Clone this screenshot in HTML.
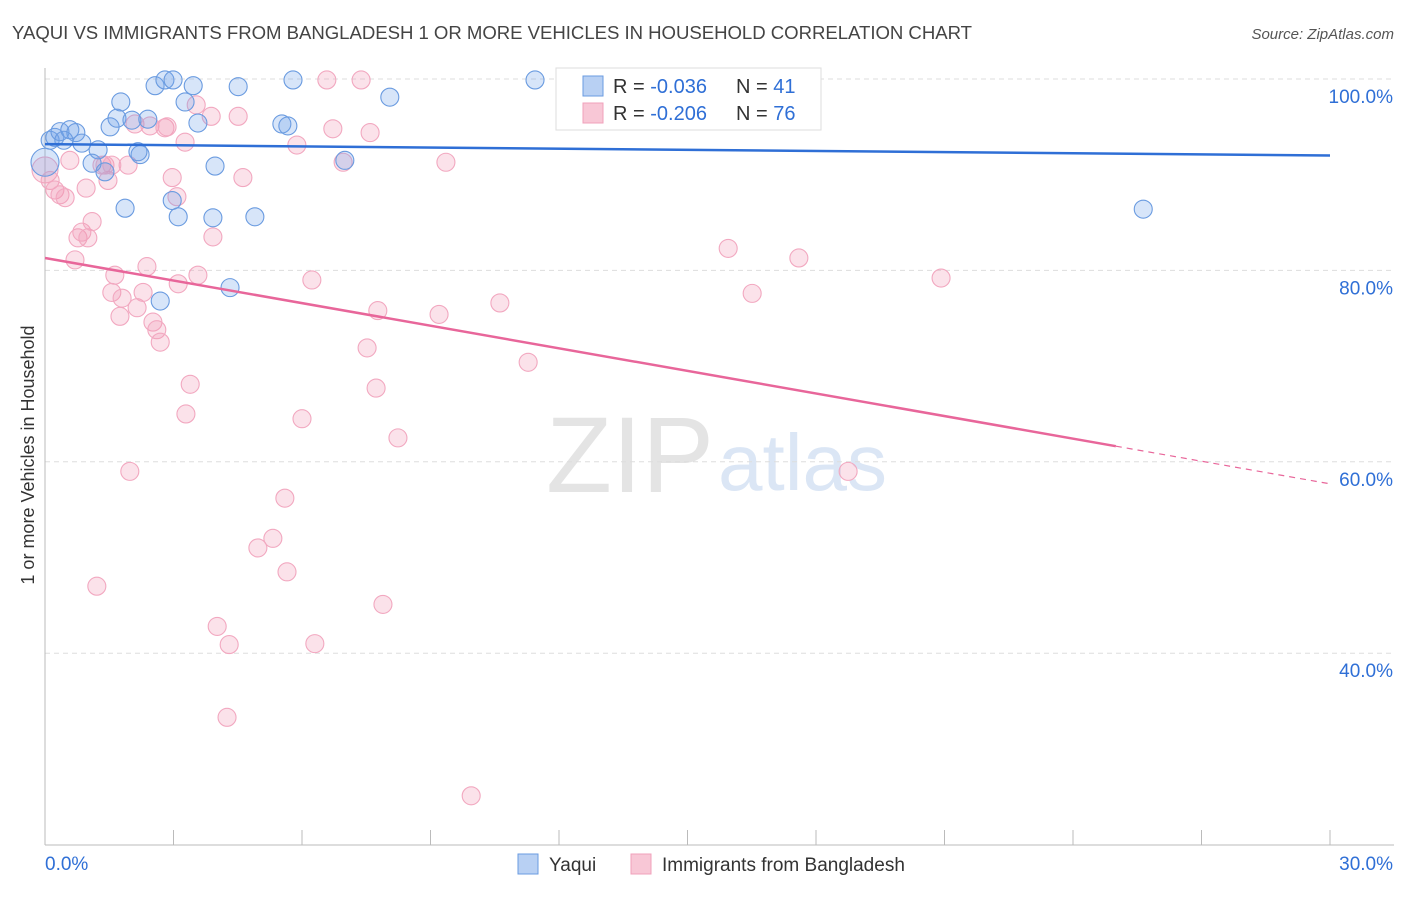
<!DOCTYPE html>
<html><head><meta charset="utf-8"><style>
body{margin:0;background:#fff;font-family:"Liberation Sans",sans-serif}
svg text{font-family:"Liberation Sans",sans-serif}
</style></head><body>
<svg id="c" width="1406" height="892">
<text x="12" y="39" font-size="18.6" fill="#444" textLength="960">YAQUI VS IMMIGRANTS FROM BANGLADESH 1 OR MORE VEHICLES IN HOUSEHOLD CORRELATION CHART</text>
<text x="1394" y="39" font-size="15" fill="#555" font-style="italic" text-anchor="end">Source: ZipAtlas.com</text>
<text x="714" y="492" font-size="108" fill="#e4e4e4" text-anchor="end" font-family="Liberation Serif">ZIP</text>
<text x="718" y="490" font-size="80" fill="#dbe6f5">atlas</text>
<text transform="translate(34,455) rotate(-90)" font-size="18" fill="#333" text-anchor="middle">1 or more Vehicles in Household</text>
<g id="grid"></g><g id="pts"></g><g id="lines"></g>
<g>
<rect x="556" y="68" width="265" height="62" fill="#fff" stroke="#ddd"/>
<rect x="583" y="76" width="20" height="20" fill="#b8d0f3" stroke="#6a9be0"/>
<rect x="583" y="103" width="20" height="20" fill="#f8c7d6" stroke="#f0a0bb"/>
<text x="613" y="93" font-size="20" fill="#333">R = <tspan fill="#2f6fd6">-0.036</tspan></text>
<text x="736" y="93" font-size="20" fill="#333">N = <tspan fill="#2f6fd6">41</tspan></text>
<text x="613" y="120" font-size="20" fill="#333">R = <tspan fill="#2f6fd6">-0.206</tspan></text>
<text x="736" y="120" font-size="20" fill="#333">N = <tspan fill="#2f6fd6">76</tspan></text>
</g>
<g>
<rect x="518" y="854" width="20" height="20" fill="#b8d0f3" stroke="#6a9be0"/>
<text x="549" y="871" font-size="19" fill="#333">Yaqui</text>
<rect x="631" y="854" width="20" height="20" fill="#f8c7d6" stroke="#f0a0bb"/>
<text x="662" y="871" font-size="19" fill="#333">Immigrants from Bangladesh</text>
</g>
</svg>
<script>
const xTicks=[0,30];
const yTicks=[40,60,80,100];
const blueX=[0,0.12,0.23,0.35,0.58,0.72,0.44,0.86,1.24,1.10,1.52,1.68,1.77,2.03,2.40,2.22,2.17,2.57,2.80,2.99,3.46,3.27,3.57,4.51,5.79,5.53,5.67,8.05,11.44,7.00,3.97,1.40,1.87,2.97,3.11,3.92,4.90,4.32,2.69,25.64,15.64];
const blueY=[91.3,93.6,93.9,94.5,94.7,94.4,93.6,93.3,92.6,91.2,95.0,95.9,97.6,95.7,95.8,92.1,92.4,99.3,99.9,99.9,99.3,97.6,95.4,99.2,99.9,95.3,95.1,98.1,99.9,91.5,90.9,90.3,86.5,87.3,85.6,85.5,85.6,78.2,76.8,86.4,96.0];
const pinkX=[0,0.12,0.23,0.35,0.47,0.58,0.70,0.77,0.86,1.0,1.10,0.96,1.33,1.47,1.40,1.63,1.56,1.80,1.75,1.94,2.10,2.15,2.29,2.38,2.45,2.52,2.61,2.69,2.80,2.85,2.97,3.08,3.11,3.27,3.29,3.39,3.53,3.57,3.88,3.92,4.02,4.30,4.25,4.51,4.62,4.97,5.32,5.60,5.65,5.88,6.00,6.23,6.30,6.58,6.72,6.96,7.38,7.52,7.59,7.73,7.77,7.89,8.24,9.20,9.36,9.95,10.62,11.28,15.95,16.51,17.60,18.75,20.92,1.98,1.21,1.56];
const pinkY=[90.5,89.4,88.4,87.9,87.6,91.5,81.1,83.4,84.0,83.4,85.1,88.6,91.0,89.4,91.0,79.5,77.7,77.1,75.2,91.0,95.3,76.1,77.7,80.4,95.1,74.6,73.8,72.5,94.9,95.0,89.7,87.7,78.6,93.4,65.0,68.1,97.3,79.5,96.1,83.5,42.8,40.9,33.3,96.1,89.7,51.0,52.0,56.2,48.5,93.1,64.5,79.0,41.0,99.9,94.8,91.3,99.9,71.9,94.4,67.7,75.8,45.1,62.5,75.4,91.3,25.1,76.6,70.4,82.3,77.6,81.3,59.0,79.2,59.0,47.0,91.0];
const blueTrend=[93.2,92.0];
const pinkTrend=[81.3,57.7];
const pinkSolidEnd=25;
const X=v=>45+v*(1285/30), Y=v=>79+(100-v)*9.57;
const NS='http://www.w3.org/2000/svg';
function mk(tag,attrs,parent){const e=document.createElementNS(NS,tag);for(const k in attrs)e.setAttribute(k,attrs[k]);parent.appendChild(e);return e;}
const grid=document.getElementById('grid');
yTicks.forEach(t=>{
 const l=mk('line',{x1:45,x2:1394,y1:Y(t),y2:Y(t),stroke:'#ddd','stroke-dasharray':'5,4'},grid);
 
 
 const tx=mk('text',{x:1393,y:Y(t)+24,'font-size':19,fill:'#2f6fd6','text-anchor':'end'},grid);
 tx.textContent=t.toFixed(1)+'%';
 
 
});
const ax=mk('line',{x1:45,x2:45,y1:68,y2:845,stroke:'#bbb'},grid);


const bx=mk('line',{x1:45,x2:1394,y1:845,y2:845,stroke:'#bbb'},grid);


for(let i=0;i<=10;i++){const t=mk('line',{x1:X(i*3),x2:X(i*3),y1:830,y2:845,stroke:'#bbb'},grid);
 
 }
xTicks.forEach((t,i)=>{const tx=mk('text',{x:i?1393:45,y:870,'font-size':19,fill:'#2f6fd6','text-anchor':i?'end':'start'},grid);
 tx.textContent=t.toFixed(1)+'%';
 
 });
const pts=document.getElementById('pts');
pinkX.forEach((v,i)=>{const c=mk('circle',{cx:X(v),cy:Y(pinkY[i]),r:i==0?13:9,fill:'rgba(242,150,180,0.28)',stroke:'#f2a8c0','stroke-width':1.1},pts);
 
 });
blueX.forEach((v,i)=>{const c=mk('circle',{cx:X(v),cy:Y(blueY[i]),r:i==0?14:9,fill:'rgba(110,160,232,0.28)',stroke:'#6a9be0','stroke-width':1.1},pts);
 
 });
const lines=document.getElementById('lines');
const bl=mk('line',{x1:X(0),y1:Y(blueTrend[0]),x2:X(30),y2:Y(blueTrend[1]),stroke:'#2f6fd6','stroke-width':2.5},lines);


const pm=pinkTrend[0]+(pinkTrend[1]-pinkTrend[0])*pinkSolidEnd/30;
const pl=mk('line',{x1:X(0),y1:Y(pinkTrend[0]),x2:X(pinkSolidEnd),y2:Y(pm),stroke:'#e8669a','stroke-width':2.5},lines);


const pd=mk('line',{x1:X(pinkSolidEnd),y1:Y(pm),x2:X(30),y2:Y(pinkTrend[1]),stroke:'#e8669a','stroke-width':1.2,'stroke-dasharray':'6,5'},lines);


</script>
</body></html>
